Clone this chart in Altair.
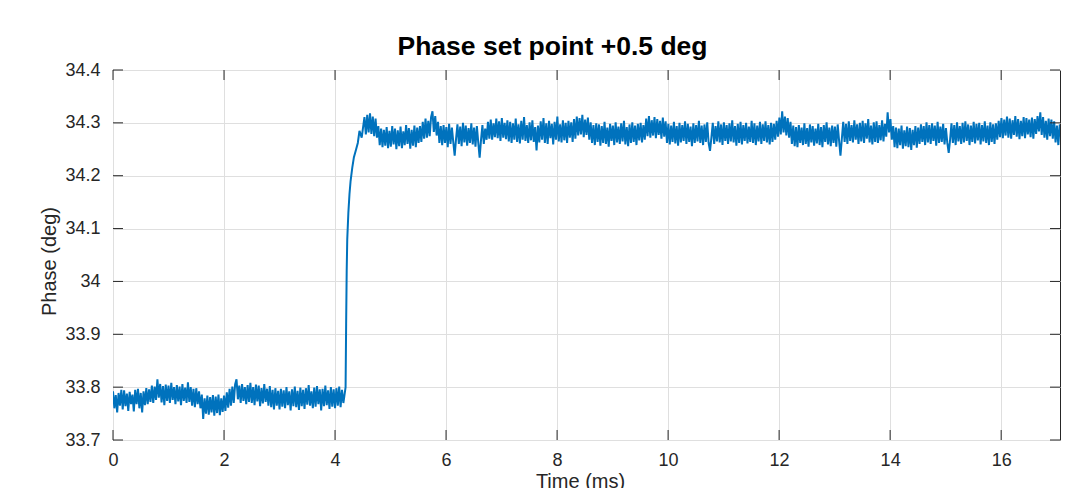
import altair as alt
import numpy as np
import pandas as pd

# ---- data (phase in deg) ----
# before the set-point step, sampled every 0.025 ms from t = 0
pre_phase = [
    33.792, 33.760, 33.785, 33.752, 33.789, 33.765, 33.795, 33.758,
    33.794, 33.764, 33.788, 33.755, 33.791, 33.768, 33.786, 33.754,
    33.795, 33.768, 33.797, 33.760, 33.789, 33.752, 33.792, 33.766,
    33.798, 33.768, 33.796, 33.772, 33.803, 33.770, 33.801, 33.776,
    33.815, 33.780, 33.806, 33.771, 33.802, 33.766, 33.805, 33.774,
    33.803, 33.770, 33.808, 33.776, 33.800, 33.768, 33.804, 33.773,
    33.801, 33.766, 33.806, 33.774, 33.799, 33.770, 33.809, 33.772,
    33.800, 33.765, 33.797, 33.762, 33.798, 33.768, 33.792, 33.760,
    33.786, 33.740, 33.779, 33.750, 33.784, 33.748, 33.781, 33.752,
    33.785, 33.746, 33.782, 33.751, 33.786, 33.747, 33.779, 33.753,
    33.784, 33.755, 33.790, 33.761, 33.797, 33.765, 33.801, 33.770,
    33.805, 33.815, 33.777, 33.803, 33.770, 33.806, 33.774, 33.800,
    33.768, 33.804, 33.772, 33.808, 33.770, 33.800, 33.766, 33.805,
    33.773, 33.803, 33.764, 33.798, 33.769, 33.806, 33.772, 33.797,
    33.765, 33.802, 33.762, 33.795, 33.758, 33.798, 33.765, 33.793,
    33.758, 33.797, 33.763, 33.794, 33.760, 33.800, 33.766, 33.792,
    33.756, 33.796, 33.764, 33.801, 33.762, 33.793, 33.757, 33.799,
    33.764, 33.795, 33.759, 33.798, 33.767, 33.804, 33.765, 33.792,
    33.760, 33.799, 33.763, 33.802, 33.768, 33.796, 33.756, 33.797,
    33.764, 33.803, 33.766, 33.794, 33.759, 33.800, 33.763, 33.796,
    33.760, 33.798, 33.765, 33.801, 33.762, 33.795, 33.770,
]
# the step itself
step_time = [4.17, 4.19, 4.20, 4.21, 4.22, 4.24, 4.26, 4.28, 4.31, 4.34, 4.38, 4.41, 4.44, 4.48]
step_phase = [33.785, 33.800, 33.920, 34.020, 34.080, 34.130, 34.165, 34.190, 34.215,
              34.235, 34.250, 34.262, 34.285, 34.272]
# after the step, sampled every 0.025 ms from t = 4.53
post_phase = [
    34.311, 34.278, 34.315, 34.282, 34.318, 34.279, 34.312, 34.275,
    34.308, 34.272, 34.294, 34.258, 34.289, 34.254, 34.287, 34.257,
    34.292, 34.252, 34.285, 34.255, 34.294, 34.259, 34.289, 34.250,
    34.286, 34.256, 34.293, 34.252, 34.284, 34.258, 34.296, 34.260,
    34.290, 34.251, 34.287, 34.257, 34.295, 34.254, 34.291, 34.262,
    34.294, 34.264, 34.302, 34.270, 34.308, 34.272, 34.304, 34.275,
    34.311, 34.322, 34.283, 34.313, 34.276, 34.302, 34.262, 34.294,
    34.258, 34.296, 34.262, 34.292, 34.254, 34.298, 34.260, 34.291,
    34.264, 34.238, 34.270, 34.297, 34.260, 34.293, 34.256, 34.300,
    34.263, 34.295, 34.257, 34.290, 34.262, 34.299, 34.259, 34.291,
    34.255, 34.294, 34.263, 34.234, 34.268, 34.296, 34.260, 34.289,
    34.268, 34.302, 34.270, 34.306, 34.268, 34.299, 34.273, 34.308,
    34.271, 34.303, 34.266, 34.309, 34.272, 34.300, 34.269, 34.305,
    34.265, 34.302, 34.262, 34.299, 34.268, 34.308, 34.264, 34.297,
    34.261, 34.304, 34.268, 34.311, 34.266, 34.296, 34.262, 34.301,
    34.267, 34.305, 34.264, 34.292, 34.248, 34.295, 34.263, 34.303,
    34.268, 34.309, 34.262, 34.299, 34.260, 34.304, 34.271, 34.298,
    34.259, 34.302, 34.268, 34.312, 34.265, 34.297, 34.263, 34.305,
    34.267, 34.300, 34.262, 34.304, 34.272, 34.301, 34.264, 34.307,
    34.270, 34.312, 34.276, 34.309, 34.278, 34.315, 34.273, 34.306,
    34.277, 34.310, 34.268, 34.301, 34.262, 34.296, 34.258, 34.299,
    34.264, 34.297, 34.257, 34.294, 34.262, 34.302, 34.260, 34.291,
    34.255, 34.298, 34.266, 34.295, 34.258, 34.301, 34.263, 34.293,
    34.260, 34.299, 34.265, 34.304, 34.259, 34.292, 34.256, 34.297,
    34.262, 34.301, 34.264, 34.295, 34.258, 34.298, 34.267, 34.300,
    34.263, 34.296, 34.268, 34.308, 34.275, 34.313, 34.272, 34.305,
    34.276, 34.311, 34.271, 34.307, 34.277, 34.304, 34.270, 34.310,
    34.274, 34.303, 34.262, 34.298, 34.259, 34.295, 34.264, 34.302,
    34.261, 34.294, 34.257, 34.300, 34.263, 34.296, 34.266, 34.303,
    34.260, 34.298, 34.264, 34.293, 34.256, 34.299, 34.262, 34.296,
    34.265, 34.304, 34.262, 34.295, 34.258, 34.297, 34.264, 34.301,
    34.262, 34.247, 34.272, 34.300, 34.260, 34.294, 34.265, 34.303,
    34.263, 34.297, 34.258, 34.301, 34.266, 34.296, 34.260, 34.299,
    34.265, 34.305, 34.263, 34.294, 34.257, 34.298, 34.262, 34.302,
    34.259, 34.296, 34.266, 34.300, 34.261, 34.293, 34.264, 34.304,
    34.262, 34.299, 34.258, 34.295, 34.265, 34.302, 34.260, 34.297,
    34.266, 34.303, 34.263, 34.296, 34.259, 34.300, 34.264, 34.298,
    34.268, 34.304, 34.274, 34.310, 34.278, 34.322, 34.282, 34.312,
    34.276, 34.309, 34.272, 34.302, 34.260, 34.295, 34.256, 34.292,
    34.254, 34.296, 34.262, 34.291, 34.258, 34.299, 34.260, 34.290,
    34.255, 34.297, 34.263, 34.294, 34.257, 34.289, 34.261, 34.298,
    34.258, 34.292, 34.254, 34.296, 34.264, 34.301, 34.259, 34.291,
    34.256, 34.295, 34.262, 34.293, 34.255, 34.297, 34.267, 34.238,
    34.270, 34.302, 34.264, 34.298, 34.260, 34.303, 34.266, 34.296,
    34.263, 34.305, 34.268, 34.297, 34.260, 34.300, 34.265, 34.304,
    34.262, 34.299, 34.270, 34.307, 34.263, 34.295, 34.259, 34.301,
    34.264, 34.303, 34.262, 34.296, 34.267, 34.305, 34.265, 34.298,
    34.274, 34.320, 34.282, 34.307, 34.268, 34.294, 34.254, 34.291,
    34.252, 34.289, 34.258, 34.295, 34.251, 34.286, 34.256, 34.293,
    34.254, 34.290, 34.249, 34.287, 34.258, 34.294, 34.253, 34.291,
    34.260, 34.297, 34.264, 34.294, 34.258, 34.301, 34.263, 34.296,
    34.260, 34.299, 34.266, 34.295, 34.257, 34.302, 34.262, 34.293,
    34.264, 34.298, 34.259, 34.290, 34.262, 34.243, 34.268, 34.299,
    34.262, 34.296, 34.258, 34.301, 34.265, 34.294, 34.260, 34.300,
    34.263, 34.303, 34.266, 34.297, 34.258, 34.295, 34.264, 34.302,
    34.261, 34.298, 34.267, 34.300, 34.259, 34.296, 34.265, 34.303,
    34.262, 34.295, 34.258, 34.301, 34.264, 34.297, 34.260, 34.299,
    34.268, 34.304, 34.273, 34.309, 34.271, 34.306, 34.276, 34.312,
    34.272, 34.308, 34.270, 34.305, 34.277, 34.313, 34.274, 34.307,
    34.269, 34.304, 34.275, 34.311, 34.271, 34.309, 34.278, 34.306,
    34.273, 34.310, 34.270, 34.307, 34.279, 34.313, 34.284, 34.320,
    34.277, 34.311, 34.272, 34.304, 34.268, 34.308, 34.275, 34.306,
    34.270, 34.303, 34.263, 34.295, 34.258, 34.297, 34.272,
]
x_ticks = [0, 2, 4, 6, 8, 10, 12, 14, 16]
y_ticks = [33.7, 33.8, 33.9, 34.0, 34.1, 34.2, 34.3, 34.4]

pre_time = np.round(0.025 * np.arange(len(pre_phase)), 4)
post_time = np.round(4.53 + 0.025 * np.arange(len(post_phase)), 4)

df = pd.DataFrame({
    "time": np.concatenate([pre_time, step_time, post_time]),
    "phase": np.concatenate([pre_phase, step_phase, post_phase]),
})
xt = pd.DataFrame({"time": x_ticks})
yt = pd.DataFrame({"phase": y_ticks})

W, H = 947, 370
FONT = "Liberation Sans"
AX = "#262626"

xscale = alt.Scale(domain=[0, 17.06], nice=False, zero=False)
yscale = alt.Scale(domain=[33.7, 34.4], nice=False, zero=False)

xaxis = alt.Axis(values=x_ticks, format="~g", title="Time (ms)",
                 ticks=False, domain=False, grid=True, labelFlush=False,
                 gridColor="#dfdfdf", gridWidth=1,
                 labelFontSize=18, labelFont=FONT, labelColor=AX,
                 labelPadding=11,
                 titleFontSize=20, titleFont=FONT, titleColor=AX,
                 titleFontWeight="normal", titleX=467, titleY=47,
                 titleBaseline="alphabetic")
yaxis = alt.Axis(values=y_ticks, format="~g", title="Phase (deg)",
                 ticks=False, domain=False, grid=True, labelFlush=False,
                 gridColor="#dfdfdf", gridWidth=1,
                 labelFontSize=18, labelFont=FONT, labelColor=AX,
                 labelPadding=13,
                 titleFontSize=20, titleFont=FONT, titleColor=AX,
                 titleFontWeight="normal", titleX=-64, titleY=191,
                 titleBaseline="middle", titleAngle=270)

line = alt.Chart(df).mark_line(color="#0072BD", strokeWidth=2, clip=True).encode(
    x=alt.X("time:Q", scale=xscale, axis=xaxis),
    y=alt.Y("phase:Q", scale=yscale, axis=yaxis),
)

tick_style = dict(color=AX, strokeWidth=1)
bottom_ticks = alt.Chart(xt).mark_rule(**tick_style).encode(
    x=alt.X("time:Q", scale=xscale, axis=xaxis), y=alt.value(H), y2=alt.value(H - 10))
top_ticks = alt.Chart(xt).mark_rule(**tick_style).encode(
    x=alt.X("time:Q", scale=xscale, axis=xaxis), y=alt.value(0), y2=alt.value(10))
left_ticks = alt.Chart(yt).mark_rule(**tick_style).encode(
    y=alt.Y("phase:Q", scale=yscale, axis=yaxis), x=alt.value(0), x2=alt.value(10))
right_ticks = alt.Chart(yt).mark_rule(**tick_style).encode(
    y=alt.Y("phase:Q", scale=yscale, axis=yaxis), x=alt.value(W), x2=alt.value(W - 10))

chart = alt.layer(line, bottom_ticks, top_ticks, left_ticks, right_ticks).properties(
    width=W, height=H,
    title=alt.TitleParams(text="Phase set point +0.5 deg", fontSize=26.5, fontWeight="bold",
                          font=FONT, color="#000000", anchor="middle", frame="group",
                          dx=-34, dy=32, offset=12, baseline="alphabetic"),
    autosize=alt.AutoSizeParams(type="none"),
    padding={"left": 113, "top": 70, "right": 20, "bottom": 48},
    background="white",
).configure_view(stroke=AX, strokeWidth=1)

chart.save("out.html", embed_options={"renderer": "svg", "actions": False})
